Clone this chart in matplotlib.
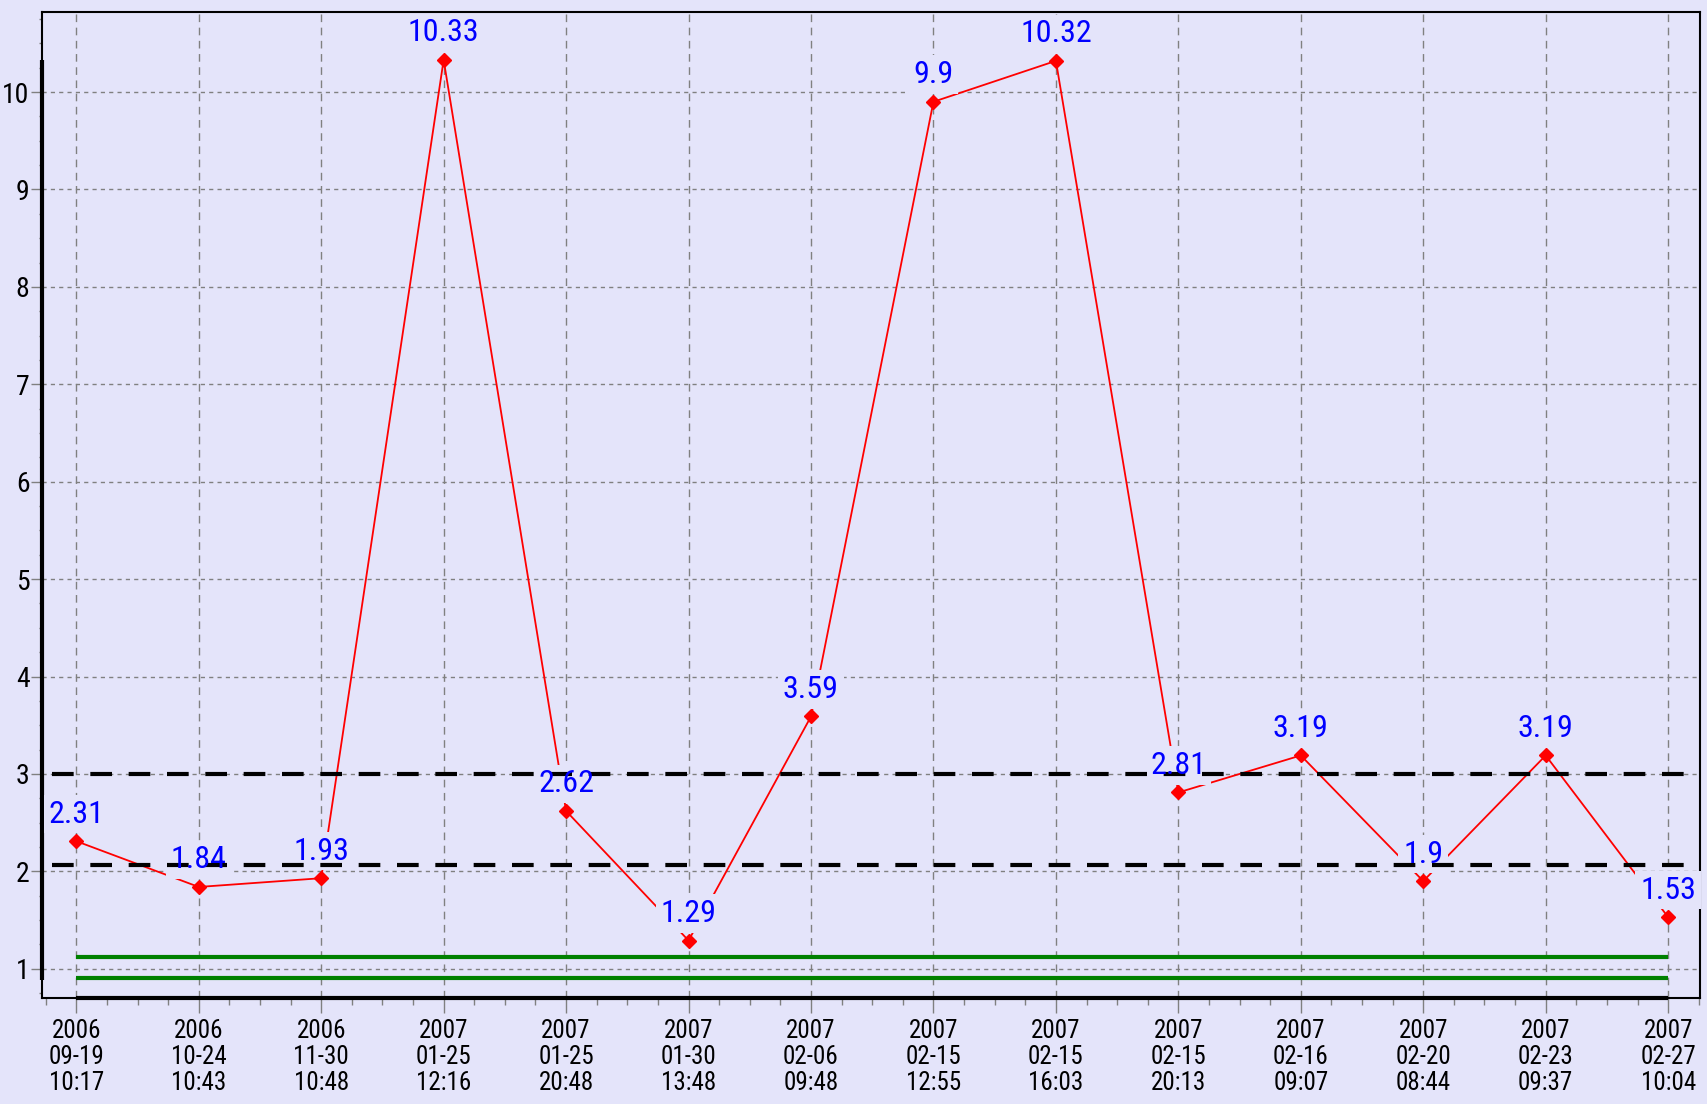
import matplotlib.pyplot as plt
import numpy as np
from matplotlib.ticker import MultipleLocator

dates = ['2006\n09-19\n10:17', '2006\n10-24\n10:43', '2006\n11-30\n10:48',
         '2007\n01-25\n12:16', '2007\n01-25\n20:48', '2007\n01-30\n13:48',
         '2007\n02-06\n09:48', '2007\n02-15\n12:55', '2007\n02-15\n16:03',
         '2007\n02-15\n20:13', '2007\n02-16\n09:07', '2007\n02-20\n08:44',
         '2007\n02-23\n09:37', '2007\n02-27\n10:04']
values = [2.31, 1.84, 1.93, 10.33, 2.62, 1.29, 3.59, 9.9, 10.32, 2.81, 3.19, 1.9, 3.19, 1.53]
limit_lines = [3.0, 2.07]
green_lines = [1.12, 0.91]

bg = '#e4e4fa'
plt.rcParams['font.family'] = ['Roboto Condensed', 'Liberation Sans Narrow', 'Open Sans Condensed',
                               'Liberation Sans', 'DejaVu Sans']

fig = plt.figure(figsize=(17.08, 11.04), dpi=100, facecolor=bg)
ax = fig.add_axes([0.0246, 0.096, 0.9707, 0.893])
ax.set_facecolor(bg)

x = np.arange(len(values))
ax.set_xlim(-0.28, 13.26)
ax.set_ylim(0.70, 10.82)

# grid
for xi in x:
    ax.axvline(xi, color='#808080', lw=1, ls=(0, (5.5, 4)), zorder=1)
for yi in range(1, 11):
    ax.axhline(yi, color='#808080', lw=1, ls=(0, (3, 3)), zorder=1)

# green band
for g in green_lines:
    ax.hlines(g, x[0], x[-1], color='#008000', lw=3, zorder=2)

# data line and markers
ax.plot(x, values, color='red', lw=1.3, zorder=3)
ax.plot(x, values, ls='none', color='red', marker='D', markersize=7.5, zorder=4.5)

# thick range indicators on the axes
ax.plot([x[0], x[-1]], [ax.get_ylim()[0]] * 2, color='black', lw=3,
        solid_capstyle='butt', clip_on=False, zorder=3)
ax.plot([ax.get_xlim()[0]] * 2, [green_lines[1] - 0.02, max(values)], color='black', lw=3,
        solid_capstyle='butt', clip_on=False, zorder=3)

# labels: background box first, then reference lines, then text
for xi, v in zip(x, values):
    ax.annotate(f'{v:g}', (xi, v), xytext=(0, 9), textcoords='offset points',
                ha='center', va='bottom', fontsize=23, color=(0, 0, 0, 0),
                bbox=dict(boxstyle='square,pad=0.15', fc=bg, ec='none'),
                zorder=4, annotation_clip=False)

for lv in limit_lines:
    ax.hlines(lv, -0.2, 13.17, color='black', lw=3, ls=(0, (5.2, 4)), zorder=5)

for xi, v in zip(x, values):
    ax.annotate(f'{v:g}', (xi, v), xytext=(0, 9), textcoords='offset points',
                ha='center', va='bottom', fontsize=23, color='blue',
                zorder=6, annotation_clip=False)

ax.set_xticks(x)
ax.set_xticklabels(dates, fontsize=18, linespacing=1.12)
ax.xaxis.set_minor_locator(MultipleLocator(0.25))
ax.set_yticks(range(1, 11))
ax.yaxis.set_minor_locator(MultipleLocator(0.25))
ax.tick_params(axis='x', which='major', length=11, color='#808080', width=1, pad=4)
ax.tick_params(axis='x', which='minor', length=5, color='#808080', width=1)
ax.tick_params(axis='y', which='major', length=8, color='#808080', width=1, pad=1, labelsize=20)
ax.tick_params(axis='y', which='minor', length=2, color='#808080', width=1)

for s in ax.spines.values():
    s.set_linewidth(1.5)
    s.set_color('black')

fig.savefig('out.png', dpi=100, facecolor=bg)
